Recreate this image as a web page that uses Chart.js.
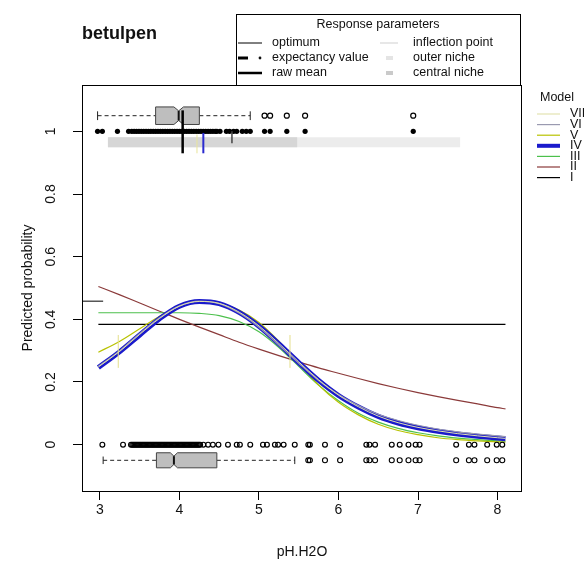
<!DOCTYPE html>
<html><head><meta charset="utf-8">
<script src="https://cdn.jsdelivr.net/npm/chart.js@4/dist/chart.umd.min.js"></script>
<style>html,body{margin:0;padding:0;background:#fff}#wrap{width:584px;height:563px}</style>
</head><body><div id="wrap"><canvas id="c" width="584" height="563"></canvas></div>
<script>
// ---------------- data ----------------
const speciesTitle = 'betulpen';
const xTitle = 'pH.H2O';
const yTitle = 'Predicted probability';
const xTicks = [3, 4, 5, 6, 7, 8];
const yTicks = [0, 0.2, 0.4, 0.6, 0.8, 1];
const yTickLabels = ['0', '0.2', '0.4', '0.6', '0.8', '1'];

const xGrid  = [2.98, 3.25, 3.5, 3.75, 4.0, 4.25, 4.5, 4.75, 5.0, 5.25, 5.5, 5.75, 6.0, 6.25, 6.5, 6.75, 7.0, 7.25, 7.5, 7.75, 8.0, 8.1];
const modelI   = [0.384,0.384,0.384,0.384,0.384,0.384,0.384,0.384,0.384,0.384,0.384,0.384,0.384,0.384,0.384,0.384,0.384,0.384,0.384,0.384,0.384,0.384];
const modelII  = [0.505,0.478,0.452,0.426,0.400,0.375,0.351,0.327,0.305,0.284,0.264,0.245,0.228,0.211,0.195,0.180,0.166,0.153,0.141,0.130,0.118,0.114];
const modelIII = [0.421,0.421,0.421,0.421,0.421,0.419,0.412,0.393,0.360,0.310,0.250,0.190,0.140,0.100,0.072,0.052,0.038,0.028,0.021,0.016,0.012,0.011];
const modelIV  = [0.246,0.297,0.350,0.402,0.442,0.457,0.450,0.422,0.378,0.322,0.262,0.205,0.157,0.120,0.090,0.069,0.054,0.043,0.034,0.027,0.021,0.019];
const modelV   = [0.295,0.330,0.370,0.410,0.440,0.455,0.450,0.430,0.390,0.330,0.260,0.190,0.135,0.095,0.065,0.045,0.032,0.022,0.016,0.012,0.009,0.008];
const modelVI  = [0.250,0.300,0.355,0.405,0.443,0.458,0.450,0.420,0.375,0.318,0.260,0.205,0.160,0.125,0.097,0.077,0.062,0.050,0.041,0.034,0.028,0.026];
const modelVII = [0.248,0.298,0.352,0.403,0.442,0.457,0.451,0.423,0.379,0.323,0.264,0.207,0.158,0.121,0.091,0.070,0.055,0.044,0.035,0.028,0.022,0.020];
const modelNames = ['I', 'II', 'III', 'IV', 'V', 'VI', 'VII'];

// presences (y = 1) and absences (y = 0) along pH
const presencePoints = [2.97, 3.03, 3.22, 3.36, 3.40, 3.43, 3.46, 3.49, 3.52, 3.55, 3.58, 3.61, 3.64, 3.67, 3.70, 3.73, 3.76, 3.79, 3.82, 3.85, 3.88, 3.91, 3.94, 3.97, 4.00, 4.03, 4.06, 4.09, 4.12, 4.15, 4.18, 4.21, 4.24, 4.27, 4.30, 4.33, 4.36, 4.39, 4.42, 4.45, 4.47, 4.51, 4.59, 4.63, 4.68, 4.72, 4.79, 4.84, 4.89, 5.07, 5.14, 5.35, 5.58, 6.94];
const absencePoints = [3.03, 3.29, 3.39, 3.42, 3.45, 3.48, 3.51, 3.54, 3.57, 3.60, 3.63, 3.66, 3.69, 3.72, 3.75, 3.78, 3.81, 3.84, 3.87, 3.90, 3.93, 3.96, 3.99, 4.02, 4.05, 4.08, 4.11, 4.14, 4.17, 4.20, 4.23, 4.26, 4.30, 4.36, 4.42, 4.49, 4.61, 4.72, 4.76, 4.89, 5.05, 5.10, 5.20, 5.24, 5.31, 5.45, 5.62, 5.64, 5.83, 6.02, 6.35, 6.39, 6.46, 6.67, 6.77, 6.88, 6.97, 7.02, 7.48, 7.64, 7.71, 7.87, 7.99, 8.06];
const absenceDense = [3.405, 3.435, 3.465, 3.495, 3.525, 3.555, 3.585, 3.615, 3.645, 3.675, 3.705, 3.735, 3.765, 3.795, 3.825, 3.855, 3.885, 3.915, 3.945, 3.975, 4.005, 4.035, 4.065, 4.095, 4.125, 4.155, 4.185, 4.215, 4.245];

// boxplots: [lower whisker, Q1, median, Q3, upper whisker]
const presenceBox = [2.97, 3.70, 3.99, 4.25, 4.89];
const presenceNotch = 0.06;
const presenceOutliers = [5.07, 5.14, 5.35, 5.58, 6.94];
const absenceBox = [3.04, 3.71, 3.93, 4.47, 5.45];
const absenceNotch = 0.045;
const absenceOutliers = [5.62, 5.64, 5.83, 6.02, 6.35, 6.39, 6.46, 6.67, 6.77, 6.88, 6.97, 7.02, 7.48, 7.64, 7.71, 7.87, 7.99, 8.06];

// response parameters
const outerNiche = [3.10, 7.53];
const centralNiche = [3.10, 5.48];
const rawMean = 4.04;
const optimumX = 4.30;
const optimumY = 0.458;
const expectancyValue = 4.66;
const inflectionPoints = [3.23, 5.39];
const respTitle = 'Response parameters';
const respLeft = ['optimum', 'expectancy value', 'raw mean'];
const respRight = ['inflection point', 'outer niche', 'central niche'];
const modelTitle = 'Model';

// ---------------- styles / layout ----------------
const FONT = '"Liberation Sans", Arial, Helvetica, sans-serif';
Chart.defaults.font.family = FONT;
const modelColors = ['#000000', '#8b3a3a', '#4cc04c', '#1a1acc', '#b8c200', '#9a9ab0', '#e2e2b0'];
const modelWidths = [1.2, 1.2, 1.2, 5, 1.2, 1.2, 1.0];
const X_MIN = 2.774, X_MAX = 8.308, Y_MIN = -0.148, Y_MAX = 1.148;

const curves = [modelI, modelII, modelIII, modelIV, modelV, modelVI, modelVII];
const curveLayerOrder = [0, 1, 2, 4, 3, 5, 6]; // draw IV under VI and VII
const layers = [];
const seg = (x0, y0, x1, y1) => [{x: x0, y: y0}, {x: x1, y: y1}];
const lineDs = (data, color, width, extra) => Object.assign({data, showLine: true, borderColor: color, borderWidth: width, pointRadius: 0, borderCapStyle: 'butt', fill: false}, extra || {});

layers.push(lineDs(seg(outerNiche[0], 0.965, outerNiche[1], 0.965), '#ececec', 10));
layers.push(lineDs(seg(centralNiche[0], 0.965, centralNiche[1], 0.965), '#d6d6d6', 10));
curveLayerOrder.forEach(i => {
  layers.push(lineDs(xGrid.map((x, k) => ({x, y: curves[i][k]})), modelColors[i], modelWidths[i], {cubicInterpolationMode: 'monotone'}));
});
inflectionPoints.forEach(v => layers.push(lineDs(seg(v, 0.245, v, 0.35), '#e4df8a', 1)));
layers.push(lineDs(seg(X_MIN, optimumY, 3.04, optimumY), '#000', 1));
layers.push({data: presencePoints.map(x => ({x, y: 1})), pointRadius: 2.6, pointBackgroundColor: '#000', pointBorderColor: '#000', pointBorderWidth: 0, showLine: false});
layers.push({data: absencePoints.concat(absenceDense).map(x => ({x, y: 0})), pointRadius: 2.4, pointBackgroundColor: 'rgba(0,0,0,0)', pointBorderColor: '#000', pointBorderWidth: 1.2, showLine: false});
layers.push(lineDs(seg(4.22, 0.93, 4.22, 0.99), '#e8e49a', 1));
layers.push(lineDs(seg(expectancyValue, 0.962, expectancyValue, 1.0), '#444', 1.5));
layers.push(lineDs(seg(optimumX, 0.93, optimumX, 0.995), '#2a2ad0', 2));
layers.push(lineDs(seg(rawMean, 0.93, rawMean, 1.067), '#000', 2.5));
layers.push({data: presenceOutliers.map(x => ({x, y: 1.05})), pointRadius: 2.5, pointBackgroundColor: 'rgba(0,0,0,0)', pointBorderColor: '#000', pointBorderWidth: 1.2, showLine: false});
layers.push({data: absenceOutliers.map(x => ({x, y: -0.05})), pointRadius: 2.5, pointBackgroundColor: 'rgba(0,0,0,0)', pointBorderColor: '#000', pointBorderWidth: 1.1, showLine: false});
const N = layers.length;
layers.forEach((d, i) => { d.order = N - i; });

function drawBox(ctx, xs, ys, st, notch, yc, hh) {
  const p = st.map(v => xs.getPixelForValue(v));
  const [lo, q1, md, q3, hi] = p;
  const c = ys.getPixelForValue(yc);
  const h = Math.abs(ys.getPixelForValue(yc + hh) - c);
  const nl = xs.getPixelForValue(st[2] - notch), nr = xs.getPixelForValue(st[2] + notch);
  ctx.save();
  ctx.strokeStyle = '#222'; ctx.lineWidth = 1;
  ctx.setLineDash([4, 3]);
  ctx.beginPath(); ctx.moveTo(lo, c); ctx.lineTo(q1, c); ctx.moveTo(q3, c); ctx.lineTo(hi, c); ctx.stroke();
  ctx.setLineDash([]);
  ctx.beginPath(); ctx.moveTo(lo, c - h * 0.5); ctx.lineTo(lo, c + h * 0.5); ctx.moveTo(hi, c - h * 0.5); ctx.lineTo(hi, c + h * 0.5); ctx.stroke();
  ctx.beginPath();
  ctx.moveTo(q1, c - h); ctx.lineTo(nl, c - h); ctx.lineTo(md, c - h * 0.55); ctx.lineTo(nr, c - h); ctx.lineTo(q3, c - h);
  ctx.lineTo(q3, c + h); ctx.lineTo(nr, c + h); ctx.lineTo(md, c + h * 0.55); ctx.lineTo(nl, c + h); ctx.lineTo(q1, c + h); ctx.closePath();
  ctx.fillStyle = '#bebebe'; ctx.fill(); ctx.strokeStyle = '#444'; ctx.stroke();
  ctx.strokeStyle = '#111'; ctx.lineWidth = 2;
  ctx.beginPath(); ctx.moveTo(md, c - h * 0.55); ctx.lineTo(md, c + h * 0.55); ctx.stroke();
  ctx.restore();
}

const extras = {
  id: 'extras',
  beforeDatasetsDraw(chart) {
    const {ctx, scales: {x, y}} = chart;
    drawBox(ctx, x, y, presenceBox, presenceNotch, 1.05, 0.028);
    drawBox(ctx, x, y, absenceBox, absenceNotch, -0.05, 0.024);
  },
  afterDraw(chart) {
    const {ctx, chartArea: a} = chart;
    ctx.save();
    // plot frame
    ctx.strokeStyle = '#000'; ctx.lineWidth = 1;
    ctx.strokeRect(Math.round(a.left) + 0.5, Math.round(a.top) + 0.5, Math.round(a.width) - 1, Math.round(a.height));
    // title
    ctx.fillStyle = '#111'; ctx.textBaseline = 'middle'; ctx.textAlign = 'left';
    ctx.font = 'bold 18px ' + FONT;
    ctx.fillText(speciesTitle, 82, 34);
    // response parameters legend
    ctx.strokeRect(236.5, 14.5, 284, 71);
    ctx.font = '12.5px ' + FONT;
    ctx.textAlign = 'center';
    ctx.fillText(respTitle, 378, 25);
    ctx.textAlign = 'left';
    const rows = [43, 58, 73];
    respLeft.forEach((t, i) => ctx.fillText(t, 272, rows[i]));
    respRight.forEach((t, i) => ctx.fillText(t, 413, rows[i]));
    ctx.lineCap = 'butt';
    ctx.strokeStyle = '#000';
    ctx.lineWidth = 1; ctx.beginPath(); ctx.moveTo(238, rows[0]); ctx.lineTo(262, rows[0]); ctx.stroke();
    ctx.lineWidth = 3; ctx.beginPath(); ctx.moveTo(238, rows[1]); ctx.lineTo(248, rows[1]); ctx.stroke();
    ctx.fillStyle = '#111'; ctx.beginPath(); ctx.arc(260, rows[1], 1.4, 0, Math.PI * 2); ctx.fill();
    ctx.lineWidth = 2.5; ctx.beginPath(); ctx.moveTo(238, rows[2]); ctx.lineTo(262, rows[2]); ctx.stroke();
    ctx.strokeStyle = '#cfcfcf'; ctx.lineWidth = 1; ctx.beginPath(); ctx.moveTo(380, rows[0]); ctx.lineTo(398, rows[0]); ctx.stroke();
    ctx.strokeStyle = '#e4e4e4'; ctx.lineWidth = 4; ctx.beginPath(); ctx.moveTo(386, rows[1]); ctx.lineTo(393, rows[1]); ctx.stroke();
    ctx.strokeStyle = '#cacaca'; ctx.lineWidth = 4; ctx.beginPath(); ctx.moveTo(386, rows[2]); ctx.lineTo(393, rows[2]); ctx.stroke();
    // model legend
    ctx.fillStyle = '#111';
    ctx.fillText(modelTitle, 540, 98);
    for (let k = 0; k < modelNames.length; k++) {
      const i = modelNames.length - 1 - k;
      const yy = 114 + k * 10.6;
      ctx.strokeStyle = modelColors[i]; ctx.lineWidth = modelWidths[i] > 2 ? 4 : 1.2;
      ctx.beginPath(); ctx.moveTo(537, yy); ctx.lineTo(560, yy); ctx.stroke();
      ctx.fillStyle = '#111';
      ctx.fillText(modelNames[i], 570, yy);
    }
    ctx.restore();
  }
};

new Chart(document.getElementById('c'), {
  type: 'scatter',
  data: {datasets: layers},
  options: {
    responsive: false,
    animation: false,
    devicePixelRatio: 1,
    layout: {padding: {top: 85, right: 62, left: 0, bottom: 0}},
    plugins: {legend: {display: false}, tooltip: {enabled: false}, title: {display: false}},
    scales: {
      x: {
        type: 'linear', min: X_MIN, max: X_MAX,
        afterBuildTicks: s => { s.ticks = xTicks.map(v => ({value: v})); },
        afterFit: s => { s.height = 72; },
        grid: {display: true, drawOnChartArea: false, drawTicks: true, tickLength: 9, color: '#000', tickColor: '#000'},
        border: {display: false},
        ticks: {color: '#111', font: {size: 14}, padding: 2, maxRotation: 0, callback: v => String(v)},
        title: {display: true, text: xTitle, color: '#111', font: {size: 14}, padding: {top: 0, bottom: 2}}
      },
      y: {
        type: 'linear', min: Y_MIN, max: Y_MAX,
        afterBuildTicks: s => { s.ticks = yTicks.map(v => ({value: v})); },
        afterFit: s => { s.width = 82; },
        grid: {display: true, drawOnChartArea: false, drawTicks: true, tickLength: 9, color: '#000', tickColor: '#000'},
        border: {display: false},
        ticks: {color: '#111', font: {size: 14}, padding: 12, minRotation: 90, maxRotation: 90, crossAlign: 'center',
          callback: v => { const i = yTicks.indexOf(v); return i >= 0 ? yTickLabels[i] : ''; }},
        title: {display: true, text: yTitle, color: '#111', font: {size: 14}, padding: {top: 20, bottom: 0}}
      }
    }
  },
  plugins: [extras]
});
</script></body></html>
